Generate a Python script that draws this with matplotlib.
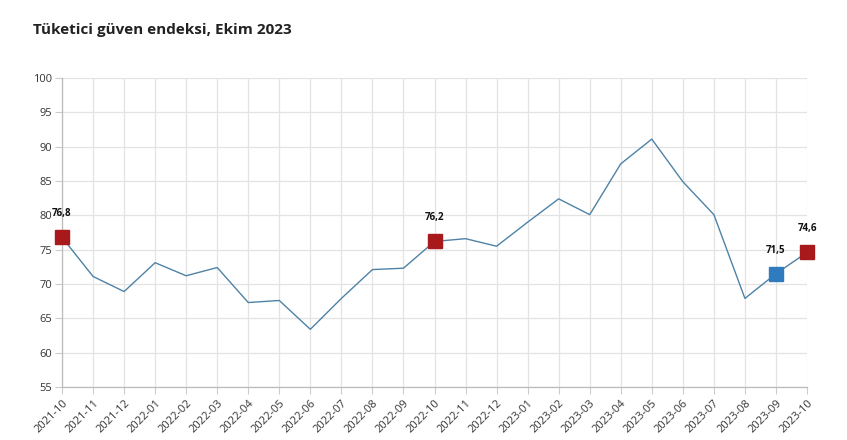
import matplotlib
matplotlib.use("Agg")
import matplotlib.pyplot as plt

months = ["2021-10", "2021-11", "2021-12", "2022-01", "2022-02", "2022-03", "2022-04",
          "2022-05", "2022-06", "2022-07", "2022-08", "2022-09", "2022-10", "2022-11",
          "2022-12", "2023-01", "2023-02", "2023-03", "2023-04", "2023-05", "2023-06",
          "2023-07", "2023-08", "2023-09", "2023-10"]
values = [76.8, 71.1, 68.9, 73.1, 71.2, 72.4, 67.3, 67.6, 63.4, 67.9, 72.1, 72.3, 76.2,
          76.6, 75.5, 79.0, 82.4, 80.1, 87.5, 91.1, 84.9, 80.1, 67.9, 71.5, 74.6]
red_points = ["2021-10", "2022-10", "2023-10"]
blue_points = ["2023-09"]
yticks = [55, 60, 65, 70, 75, 80, 85, 90, 95, 100]
title = "Tüketici güven endeksi, Ekim 2023"

plt.rcParams['font.family'] = ['Open Sans', 'DejaVu Sans']

fig = plt.figure(figsize=(8.47, 4.4), dpi=100)
ax = fig.add_axes([62/847, 1-387/440, (807-62)/847, (387-78)/440])

x = list(range(len(months)))
ax.plot(x, values, color="#4f82a6", lw=1.0, zorder=3)

def fmt(v):
    return f"{v:.1f}".replace(".", ",")

for pts, col in ((red_points, "#a8191c"), (blue_points, "#2f7bbd")):
    for m in pts:
        i = months.index(m)
        ax.plot(i, values[i], marker="s", ms=9.5, color=col, mec=col, zorder=5, clip_on=False)
        ax.annotate(fmt(values[i]), (i, values[i]), xytext=(0, 13), textcoords="offset points",
                    ha="center", va="bottom", fontsize=7, fontweight="bold", color="#111111",
                    annotation_clip=False)

ax.set_xlim(0, len(months) - 1)
ax.set_ylim(55, 100)
ax.set_yticks(yticks)
ax.set_xticks(x)
ax.set_xticklabels(months, rotation=45, ha="right", rotation_mode="anchor", fontsize=8, color="#333333")
ax.tick_params(axis="y", labelsize=8, labelcolor="#333333", length=5, color="#cccccc", pad=2)
ax.tick_params(axis="x", length=5, color="#cccccc", pad=3)
ax.grid(True, color="#e3e3e3", lw=0.9)
ax.set_axisbelow(True)
for s in ("top", "right"):
    ax.spines[s].set_visible(False)
for s in ("left", "bottom"):
    ax.spines[s].set_color("#bbbbbb")
    ax.spines[s].set_linewidth(0.9)

fig.text(33/847, 1-30/440, title, fontsize=11, fontweight="bold", color="#222222", va="center", ha="left")

fig.savefig("out.png", dpi=100)
